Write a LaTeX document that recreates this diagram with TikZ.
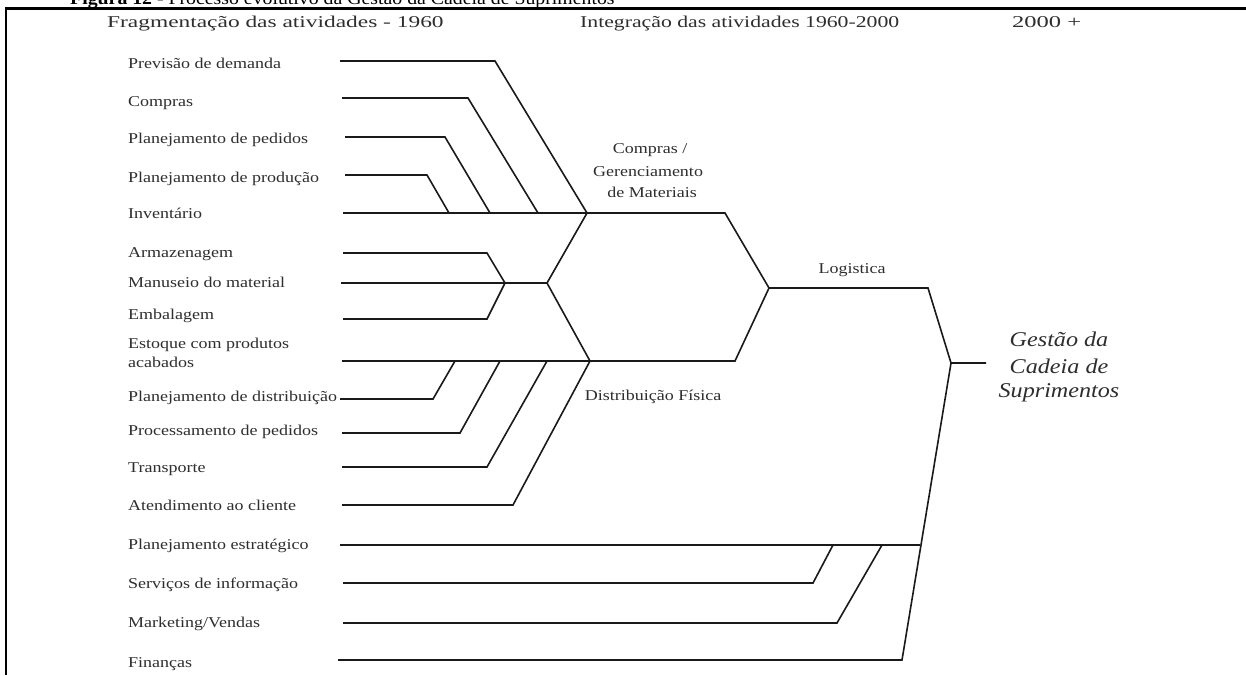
\documentclass[tikz,border=0pt]{standalone}
\usepackage{graphicx}
\usepackage{fontspec}
\setmainfont{Liberation Serif}
\newfontfamily\lblfont[FakeStretch=1.2]{Liberation Serif}
\newfontfamily\hdrfont[FakeStretch=1.35]{Liberation Serif}
\newfontfamily\gcsfont[FakeStretch=1.15]{Liberation Serif}
\newfontfamily\capfont[FakeStretch=1.1]{Liberation Serif}
\definecolor{txt}{HTML}{2E2E2E}
\definecolor{lnc}{HTML}{1A1A1A}
\tikzset{
  lbl/.style={anchor=base west, inner sep=0pt, text=txt, font=\lblfont\fontsize{15}{17}\selectfont},
  mid/.style={anchor=base, inner sep=0pt, text=txt, font=\lblfont\fontsize{15}{17}\selectfont},
  hdr/.style={anchor=base west, inner sep=0pt, text=txt, font=\hdrfont\fontsize{16.5}{19}\selectfont},
  gcs/.style={anchor=base, inner sep=0pt, text=txt, font=\gcsfont\itshape\fontsize{21}{24}\selectfont},
  ln/.style={line width=1.6pt, line join=miter, draw=lnc},
  frame/.style={line width=2.6pt, draw=black},
}
\begin{document}
\begin{tikzpicture}[x=1pt,y=-1pt]
\useasboundingbox (0,0) rectangle (1246,675);
\fill[white] (0,0) rectangle (1246,675);

% caption (cut off at top) and frame
\node[anchor=base west, inner sep=0pt, font=\capfont\fontsize{18}{20}\selectfont] (cap) at (70,4)
  {\textbf{Figura 12} - Processo evolutivo da Gestão da Cadeia de Suprimentos};
\draw[frame] (6,675) -- (6,8.7) -- (1246,8.7);

% headers
\node[hdr] (h1) at (107,27) {\scalebox{1.05}[1]{Fragmentação das atividades - 1960}};
\node[hdr] (h2) at (580,27) {\scalebox{0.975}[1]{Integração das atividades 1960-2000}};
\node[hdr] (h3) at (1012,27) {\scalebox{1.1}[1]{2000 +}};

% labels
\node[lbl] (l1)  at (128,68)  {Previsão de demanda};
\node[lbl] (l2)  at (128,106) {Compras};
\node[lbl] (l3)  at (128,143) {Planejamento de pedidos};
\node[lbl] (l4)  at (128,182) {Planejamento de produção};
\node[lbl] (l5)  at (128,218) {Inventário};
\node[lbl] (l6)  at (128,257) {Armazenagem};
\node[lbl] (l7)  at (128,287) {Manuseio do material};
\node[lbl] (l8)  at (128,319) {Embalagem};
\node[lbl] (l9)  at (128,348) {Estoque com produtos};
\node[lbl] (l9b) at (128,367) {acabados};
\node[lbl] (l10) at (128,401) {Planejamento de distribuição};
\node[lbl] (l11) at (128,435) {Processamento de pedidos};
\node[lbl] (l12) at (128,472) {Transporte};
\node[lbl] (l13) at (128,510) {Atendimento ao cliente};
\node[lbl] (l14) at (128,549) {Planejamento estratégico};
\node[lbl] (l15) at (128,588) {Serviços de informação};
\node[lbl] (l16) at (128,627) {Marketing/Vendas};
\node[lbl] (l17) at (128,667) {Finanças};

% group labels
\node[mid] (cg1) at (650,153) {Compras /};
\node[mid] (cg2) at (648,176) {Gerenciamento};
\node[mid] (cg3) at (652,197) {de Materiais};
\node[mid] (lgt) at (852,273) {Logistica};
\node[mid] (dft) at (653,400) {Distribuição Física};
\node[gcs] (g1) at (1059,346) {Gestão da};
\node[gcs] (g2) at (1059,373) {Cadeia de};
\node[gcs] (g3) at (1059,397) {Suprimentos};

% junctions
\coordinate (cm)  at (587,213);
\coordinate (arm) at (505,283);
\coordinate (mh)  at (547,283);
\coordinate (df)  at (590,361);
\coordinate (lg)  at (769,288);
\coordinate (gc)  at (951,363);
\coordinate (gcE) at (986,363);
\coordinate (spj) at (920,545);

% line starts
\coordinate (s1)  at (340,61);
\coordinate (s2)  at (342,98);
\coordinate (s3)  at (345,137);
\coordinate (s4)  at (345,175);
\coordinate (s5)  at (343,213);
\coordinate (s6)  at (343,253);
\coordinate (s7)  at (341,283);
\coordinate (s8)  at (343,319);
\coordinate (s9)  at (342,361);
\coordinate (s10) at (340,399);
\coordinate (s11) at (342,433);
\coordinate (s12) at (342,467);
\coordinate (s13) at (342,505);
\coordinate (s14) at (340,545);
\coordinate (s15) at (343,583);
\coordinate (s16) at (343,623);
\coordinate (s17) at (338,660);

% purchasing group
\draw[ln] (s1) -- (495,61) -- (cm);
\draw[ln] (s2) -- (468,98) -- (538,213);
\draw[ln] (s3) -- (445,137) -- (490,213);
\draw[ln] (s4) -- (427,175) -- (449,213);
\draw[ln] (s5) -- (cm) -- (725,213) -- (lg);

% handling group
\draw[ln] (s6) -- (487,253) -- (arm);
\draw[ln] (s8) -- (487,319) -- (arm);
\draw[ln] (s7) -- (mh);
\draw[ln] (cm) -- (mh) -- (df);

% distribution group
\draw[ln] (s9) -- (df) -- (735,361) -- (lg);
\draw[ln] (s10) -- (433,399) -- (455,361);
\draw[ln] (s11) -- (460,433) -- (500,361);
\draw[ln] (s12) -- (487,467) -- (547,361);
\draw[ln] (s13) -- (513,505) -- (df);

% logistics to SCM
\draw[ln] (lg) -- (928,288) -- (gc) -- (gcE);

% strategic group
\draw[ln] (s14) -- (spj);
\draw[ln] (s15) -- (813,583) -- (833,545);
\draw[ln] (s16) -- (837,623) -- (882,545);
\draw[ln] (s17) -- (902,660) -- (gc);
\end{tikzpicture}
\end{document}
